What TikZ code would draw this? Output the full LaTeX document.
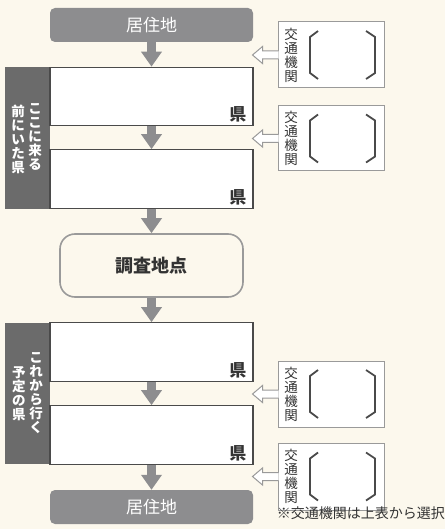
\documentclass[tikz,border=0pt]{standalone}
\usepackage{fontspec}
\setmainfont{Noto Sans CJK JP}
\usepackage{tikz}
\usetikzlibrary{positioning,arrows.meta,calc}
\usepackage{xcolor}
\definecolor{paper}{HTML}{FCF8ED}
\definecolor{flowgray}{HTML}{8D8D8F}
\definecolor{bargray}{HTML}{6B6B6B}
\definecolor{linegray}{HTML}{4A4A4A}
\definecolor{modegray}{HTML}{9A9A9A}
\definecolor{ink}{HTML}{333333}

\begin{document}
\begin{tikzpicture}[x=1pt,y=-1pt,
  home/.style={rectangle,rounded corners=5pt,fill=flowgray,text=white,
    minimum width=203pt,minimum height=34pt,font=\fontsize{17}{17}\selectfont},
  pref/.style={rectangle,draw=linegray,line width=1.2pt,fill=white,
    minimum width=203pt,minimum height=58.5pt},
  ken/.style={text=ink,font=\bfseries\fontsize{17}{17}\selectfont,inner sep=1pt},
  survey/.style={rectangle,rounded corners=15pt,draw=modegray,line width=1.6pt,
    fill=paper,minimum width=183pt,minimum height=63pt,text=ink,
    font=\bfseries\fontsize{18}{18}\selectfont},
  bar/.style={rectangle,fill=bargray,minimum width=45pt,inner sep=0pt},
  tate/.style={text=white,font=\bfseries\fontsize{13.5}{14}\selectfont,
    align=center,inner sep=0pt,text width=14pt},
  mode/.style={rectangle,draw=modegray,line width=1pt,fill=white,
    minimum width=106pt,minimum height=66pt},
  modetext/.style={text=ink,font=\fontsize{13.5}{14}\selectfont,
    align=center,inner sep=0pt,text width=14pt},
  bracket/.style={draw=linegray,line width=1.8pt},
  flow/.style={draw=flowgray,line width=9pt,-{Triangle[length=15pt,width=20pt]}},
  hollow/.style={draw=modegray,line width=1pt,fill=white,line join=miter},
  note/.style={text=ink,font=\fontsize{14}{14}\selectfont,inner sep=0pt}]

\useasboundingbox (0,0) rectangle (445,529);
\fill[paper] (0,0) rectangle (445,529);

% side bars
\node[bar,minimum height=142pt] (bar1) at (27.5,138) {};
\node[bar,minimum height=141pt] (bar2) at (27.5,393.5) {};
\node[tate] (bar1-a) at (35,137) {こ\\こ\\に\\来\\る};
\node[tate] (bar1-b) at (18,139) {前\\に\\い\\た\\県};
\node[tate] (bar2-a) at (36,393) {こ\\れ\\か\\ら\\行\\く};
\node[tate] (bar2-b) at (19,394) {予\\定\\の\\県};

% main flow
\node[home] (home1) at (151.5,25) {居住地};
\node[pref] (pref1) at (151.5,96.5) {};
\node[pref] (pref2) at (151.5,179) {};
\node[survey] (survey) at (151.5,265.5) {調査地点};
\node[pref] (pref3) at (151.5,352) {};
\node[pref] (pref4) at (151.5,435) {};
\node[home] (home2) at (151.5,507) {居住地};

\foreach \p in {pref1,pref2,pref3,pref4}
  \node[ken,anchor=south east] (\p-ken) at ([xshift=-6pt,yshift=3pt]\p.south east) {県};

\draw[flow] (home1) -- (pref1);
\draw[flow] (pref1) -- (pref2);
\draw[flow] (pref2) -- (survey);
\draw[flow] (survey) -- (pref3);
\draw[flow] (pref3) -- (pref4);
\draw[flow] (pref4) -- (home2);

% transport boxes
\node[mode] (mode1) at (331,55) {};
\node[mode,minimum height=65pt] (mode2) at (331,138.5) {};
\node[mode] (mode3) at (331,394) {};
\node[mode,minimum height=67pt] (mode4) at (331,476.5) {};

\foreach \m in {mode1,mode2,mode3,mode4} {
  \node[modetext] (\m-txt) at ($(\m.center)+(-40,0)$) {交\\通\\機\\関};
  \draw[bracket] ($(\m.center)+(-13,-24)$) -- ++(-8,6) -- ++(0,36) -- ++(8,6);
  \draw[bracket] ($(\m.center)+(35,-24)$) -- ++(9,6) -- ++(0,36) -- ++(-9,6);
  \draw[hollow] ($(\m.west)+(1,-4)$) -- ++(-16,0) -- ++(0,-4.5)
    -- ++(-10,8.5) -- ++(10,8.5) -- ++(0,-4.5) -- ++(16,0);
}

\node[note,anchor=east] (note) at (445,513.5) {※交通機関は上表から選択};
\end{tikzpicture}
\end{document}
